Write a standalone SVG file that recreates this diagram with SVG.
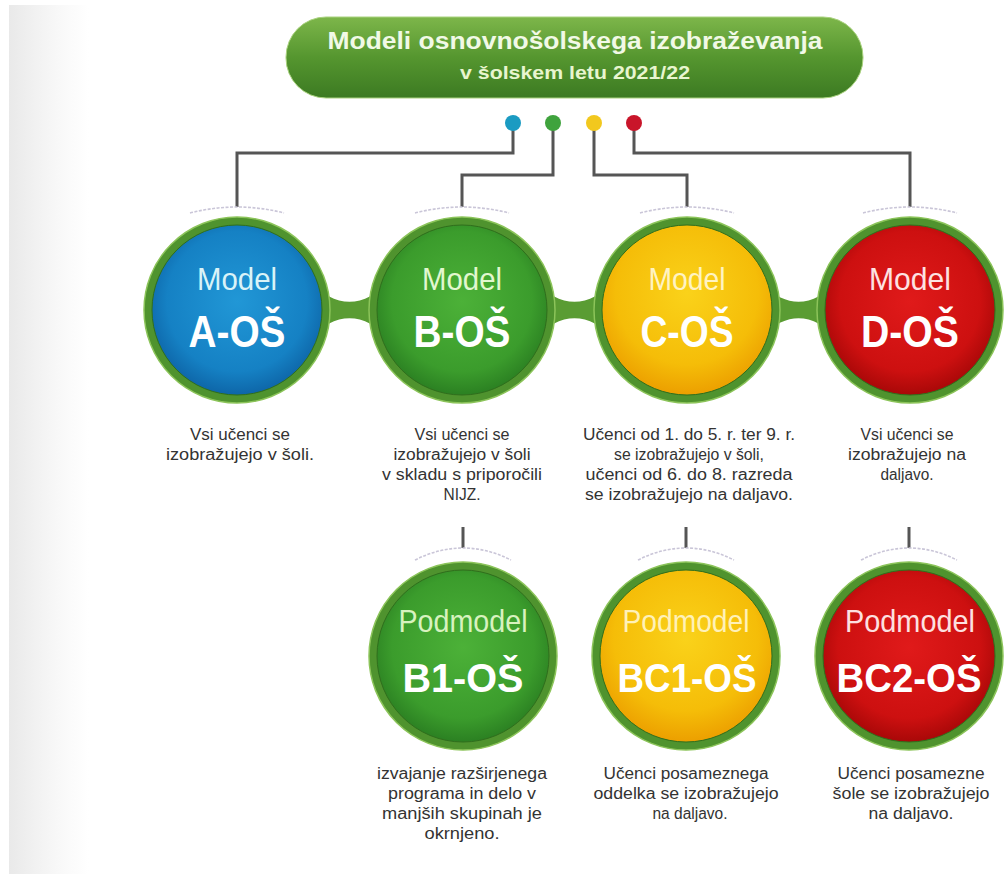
<svg xmlns="http://www.w3.org/2000/svg" width="1005" height="874" viewBox="0 0 1005 874">
<defs>
<linearGradient id="band" x1="0" y1="0" x2="1" y2="0">
<stop offset="0" stop-color="#e9e9e9"/><stop offset="0.6" stop-color="#f8f8f8"/><stop offset="1" stop-color="#ffffff"/>
</linearGradient>
<linearGradient id="pill" x1="0" y1="0" x2="0" y2="1">
<stop offset="0" stop-color="#7db64a"/><stop offset="0.5" stop-color="#55962f"/><stop offset="1" stop-color="#3c7a22"/>
</linearGradient>
<radialGradient id="gBlue" cx="0.5" cy="0.45" r="0.55">
<stop offset="0" stop-color="#2197d6"/><stop offset="0.75" stop-color="#1581c4"/><stop offset="1" stop-color="#0e66a8"/>
</radialGradient>
<radialGradient id="gGreen" cx="0.5" cy="0.45" r="0.55">
<stop offset="0" stop-color="#4cb138"/><stop offset="0.75" stop-color="#3b9c2c"/><stop offset="1" stop-color="#2b8022"/>
</radialGradient>
<radialGradient id="gYellow" cx="0.5" cy="0.4" r="0.6">
<stop offset="0" stop-color="#fad21a"/><stop offset="0.7" stop-color="#f5bd08"/><stop offset="1" stop-color="#ec9f00"/>
</radialGradient>
<radialGradient id="gRed" cx="0.5" cy="0.45" r="0.55">
<stop offset="0" stop-color="#e01a1a"/><stop offset="0.75" stop-color="#cd1010"/><stop offset="1" stop-color="#a80808"/>
</radialGradient>
<style>
.ring{fill:#4f932e;stroke:#8cc45a;stroke-width:1.5}
.inner{stroke:#2f6e1c;stroke-width:1}
.bridge{fill:#5a9c33}
.conn{fill:none;stroke:#555555;stroke-width:3}
.arc{fill:none;stroke:#cac6d8;stroke-width:1.6;stroke-dasharray:3 1.5}
.lbl{font-family:"Liberation Sans",Arial,sans-serif;font-size:32px;text-anchor:middle}
.code{font-family:"Liberation Sans",Arial,sans-serif;font-size:45px;font-weight:bold;fill:#ffffff;text-anchor:middle}
.scode{font-family:"Liberation Sans",Arial,sans-serif;font-size:40px;font-weight:bold;fill:#ffffff;text-anchor:middle}
.desc{font-family:"Liberation Sans",Arial,sans-serif;font-size:16px;fill:#333333;text-anchor:middle}
.title{font-family:"Liberation Sans",Arial,sans-serif;font-weight:bold;text-anchor:middle}
</style>
</defs>
<rect x="0" y="0" width="1005" height="874" fill="#ffffff"/>
<rect x="9" y="5" width="80" height="869" fill="url(#band)"/>

<g id="header">
<rect x="286" y="17" width="577" height="81" rx="40" ry="40" fill="url(#pill)" stroke="#a9d27e" stroke-width="1"/>
<text class="title" x="575" y="49" font-size="23" fill="#f1f9e6" textLength="495" lengthAdjust="spacingAndGlyphs">Modeli osnovnošolskega izobraževanja</text>
<text class="title" x="575" y="79" font-size="19" fill="#e8f5cf" textLength="230" lengthAdjust="spacingAndGlyphs">v šolskem letu 2021/22</text>
</g>

<g id="connectors">
<path class="conn" d="M513,123 V153 H237 V207"/>
<path class="conn" d="M553,123 V175 H462 V207"/>
<path class="conn" d="M594,123 V175 H687 V207"/>
<path class="conn" d="M634,123 V153 H910 V207"/>
<path class="conn" d="M463,527 V548"/>
<path class="conn" d="M686,527 V548"/>
<path class="conn" d="M909,527 V548"/>
<path class="arc" d="M190,213 Q237,201 284,213"/>
<path class="arc" d="M415,213 Q462,201 509,213"/>
<path class="arc" d="M640,213 Q687,201 734,213"/>
<path class="arc" d="M863,213 Q910,201 957,213"/>
<path class="arc" d="M415,560 Q463,536 511,560"/>
<path class="arc" d="M638,560 Q686,536 734,560"/>
<path class="arc" d="M861,560 Q909,536 957,560"/>
<path class="bridge" d="M307,280 C337,309 362,309 392,280 L392,340 C362,311 337,311 307,340 Z"/>
<path class="bridge" d="M532,280 C562,309 587,309 617,280 L617,340 C587,311 562,311 532,340 Z"/>
<path class="bridge" d="M757,280 C786,309 811,309 840,280 L840,340 C811,311 786,311 757,340 Z"/>
</g>

<g id="dots">
<circle cx="513" cy="123" r="8" fill="#1b9bc2"/>
<circle cx="553" cy="123" r="8" fill="#3fa33d"/>
<circle cx="594" cy="123" r="8" fill="#f2c81e"/>
<circle cx="634" cy="123" r="8" fill="#c9152a"/>
</g>

<g id="model-a">
<circle class="ring" cx="237" cy="310" r="93"/>
<circle class="inner" cx="237" cy="310" r="85" fill="url(#gBlue)"/>
<text class="lbl" x="237" y="290" fill="#d9f3f8" textLength="80" lengthAdjust="spacingAndGlyphs">Model</text>
<text class="code" x="237" y="347" textLength="97" lengthAdjust="spacingAndGlyphs">A-OŠ</text>
<text class="desc" x="240" y="440" textLength="100" lengthAdjust="spacingAndGlyphs">Vsi učenci se</text>
<text class="desc" x="240" y="460" textLength="148" lengthAdjust="spacingAndGlyphs">izobražujejo v šoli.</text>
</g>

<g id="model-b">
<circle class="ring" cx="462" cy="310" r="93"/>
<circle class="inner" cx="462" cy="310" r="85" fill="url(#gGreen)"/>
<text class="lbl" x="462" y="290" fill="#e2f7cf" textLength="80" lengthAdjust="spacingAndGlyphs">Model</text>
<text class="code" x="462" y="347" textLength="97" lengthAdjust="spacingAndGlyphs">B-OŠ</text>
<text class="desc" x="462" y="440" textLength="95" lengthAdjust="spacingAndGlyphs">Vsi učenci se</text>
<text class="desc" x="462" y="460" textLength="137" lengthAdjust="spacingAndGlyphs">izobražujejo v šoli</text>
<text class="desc" x="462" y="480" textLength="160" lengthAdjust="spacingAndGlyphs">v skladu s priporočili</text>
<text class="desc" x="462" y="500" textLength="37" lengthAdjust="spacingAndGlyphs">NIJZ.</text>
</g>

<g id="model-c">
<circle class="ring" cx="687" cy="310" r="93"/>
<circle class="inner" cx="687" cy="310" r="85" fill="url(#gYellow)"/>
<text class="lbl" x="687" y="290" fill="#fff3c2" textLength="77" lengthAdjust="spacingAndGlyphs">Model</text>
<text class="code" x="687" y="347" textLength="93" lengthAdjust="spacingAndGlyphs">C-OŠ</text>
<text class="desc" x="689" y="440" textLength="212" lengthAdjust="spacingAndGlyphs">Učenci od 1. do 5. r. ter 9. r.</text>
<text class="desc" x="689" y="460" textLength="150" lengthAdjust="spacingAndGlyphs">se izobražujejo v šoli,</text>
<text class="desc" x="689" y="480" textLength="207" lengthAdjust="spacingAndGlyphs">učenci od 6. do 8. razreda</text>
<text class="desc" x="689" y="500" textLength="208" lengthAdjust="spacingAndGlyphs">se izobražujejo na daljavo.</text>
</g>

<g id="model-d">
<circle class="ring" cx="910" cy="310" r="93"/>
<circle class="inner" cx="910" cy="310" r="85" fill="url(#gRed)"/>
<text class="lbl" x="910" y="290" fill="#fde2e2" textLength="82" lengthAdjust="spacingAndGlyphs">Model</text>
<text class="code" x="910" y="347" textLength="98" lengthAdjust="spacingAndGlyphs">D-OŠ</text>
<text class="desc" x="907" y="440" textLength="93" lengthAdjust="spacingAndGlyphs">Vsi učenci se</text>
<text class="desc" x="907" y="460" textLength="118" lengthAdjust="spacingAndGlyphs">izobražujejo na</text>
<text class="desc" x="907" y="480" textLength="53" lengthAdjust="spacingAndGlyphs">daljavo.</text>
</g>

<g id="submodel-b1">
<circle class="ring" cx="463" cy="656" r="94"/>
<circle class="inner" cx="463" cy="656" r="86" fill="url(#gGreen)"/>
<text class="lbl" x="463" y="632" fill="#d8f2bf" textLength="129" lengthAdjust="spacingAndGlyphs">Podmodel</text>
<text class="scode" x="463" y="692" textLength="121" lengthAdjust="spacingAndGlyphs">B1-OŠ</text>
<text class="desc" x="462" y="779" textLength="170" lengthAdjust="spacingAndGlyphs">izvajanje razširjenega</text>
<text class="desc" x="462" y="799" textLength="148" lengthAdjust="spacingAndGlyphs">programa in delo v</text>
<text class="desc" x="462" y="819" textLength="160" lengthAdjust="spacingAndGlyphs">manjših skupinah je</text>
<text class="desc" x="462" y="839" textLength="75" lengthAdjust="spacingAndGlyphs">okrnjeno.</text>
</g>

<g id="submodel-bc1">
<circle class="ring" cx="686" cy="656" r="94"/>
<circle class="inner" cx="686" cy="656" r="86" fill="url(#gYellow)"/>
<text class="lbl" x="686" y="632" fill="#fff1b8" textLength="127" lengthAdjust="spacingAndGlyphs">Podmodel</text>
<text class="scode" x="687" y="692" textLength="139" lengthAdjust="spacingAndGlyphs">BC1-OŠ</text>
<text class="desc" x="686" y="779" textLength="165" lengthAdjust="spacingAndGlyphs">Učenci posameznega</text>
<text class="desc" x="686" y="799" textLength="185" lengthAdjust="spacingAndGlyphs">oddelka se izobražujejo</text>
<text class="desc" x="690" y="819" textLength="75" lengthAdjust="spacingAndGlyphs">na daljavo.</text>
</g>

<g id="submodel-bc2">
<circle class="ring" cx="909" cy="656" r="94"/>
<circle class="inner" cx="909" cy="656" r="86" fill="url(#gRed)"/>
<text class="lbl" x="910" y="632" fill="#fde0e0" textLength="130" lengthAdjust="spacingAndGlyphs">Podmodel</text>
<text class="scode" x="909" y="692" textLength="145" lengthAdjust="spacingAndGlyphs">BC2-OŠ</text>
<text class="desc" x="911" y="779" textLength="147" lengthAdjust="spacingAndGlyphs">Učenci posamezne</text>
<text class="desc" x="911" y="799" textLength="157" lengthAdjust="spacingAndGlyphs">šole se izobražujejo</text>
<text class="desc" x="911" y="819" textLength="85" lengthAdjust="spacingAndGlyphs">na daljavo.</text>
</g>
</svg>
